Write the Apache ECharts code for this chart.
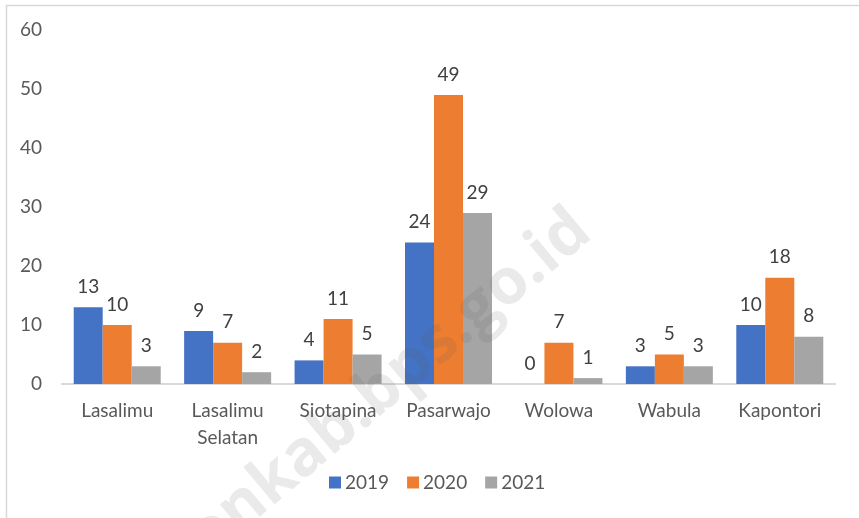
<!DOCTYPE html>
<html><head><meta charset="utf-8">
<script src="https://cdn.jsdelivr.net/npm/echarts@6/dist/echarts.min.js"></script>
<style>html,body{margin:0;padding:0;background:#fff}#c{width:859px;height:518px}</style>
</head><body><div id="c"></div>
<script>
const categories = ["Lasalimu", "Lasalimu Selatan", "Siotapina", "Pasarwajo", "Wolowa", "Wabula", "Kapontori"];
const seriesNames = ["2019", "2020", "2021"];
const v2019 = [13, 9, 4, 24, 0, 3, 10];
const v2020 = [10, 7, 11, 49, 7, 5, 18];
const v2021 = [3, 2, 5, 29, 1, 3, 8];
const colors = ["#4472c4", "#ed7d31", "#a5a5a5"];
const font = "Lato, 'Open Sans', sans-serif";

const chart = echarts.init(document.getElementById('c'));
const mk = (name, data, i) => ({
  name, type: 'bar', data, barWidth: 29, barGap: '0%',
  itemStyle: { color: colors[i] },
  label: { show: true, position: 'top', distance: 11, color: '#404040', fontSize: 19, fontFamily: font }
});
chart.setOption({
  animation: false,
  grid: { left: 62, right: 24, top: 30, bottom: 134 },
  legend: {
    bottom: 21, left: 324, itemWidth: 12, itemHeight: 12, itemGap: 18,
    icon: 'rect', textStyle: { color: '#595959', fontSize: 19, fontFamily: font, padding: [0, 0, 0, -1] },
    data: seriesNames
  },
  xAxis: {
    type: 'category', data: categories,
    axisLine: { lineStyle: { color: '#d9d9d9', width: 2 } },
    axisTick: { show: false },
    axisLabel: { color: '#595959', fontSize: 19, fontFamily: font, margin: 13, lineHeight: 27,
      formatter: s => s.replace(' ', '\n') }
  },
  yAxis: {
    type: 'value', min: 0, max: 60, interval: 10,
    splitLine: { show: false },
    axisLine: { show: false }, axisTick: { show: false },
    axisLabel: { color: '#595959', fontSize: 19, fontFamily: font, margin: 20 }
  },
  graphic: [
    { type: 'rect', left: 4, top: 3, shape: { width: 870, height: 530 },
      style: { fill: 'none', stroke: '#d9d9d9', lineWidth: 1.5 }, z: -1 },
    { type: 'text', x: 112, y: 617, rotation: 40 * Math.PI / 180, z: 100,
      style: { text: 'butonkab.bps.go.id', fontSize: 64, fontWeight: 'bold', fontFamily: "'Open Sans', sans-serif",
        verticalAlign: 'middle', fill: 'rgba(90,90,90,0.13)' } }
  ],
  series: [mk(seriesNames[0], v2019, 0), mk(seriesNames[1], v2020, 1), mk(seriesNames[2], v2021, 2)]
});
</script></body></html>
